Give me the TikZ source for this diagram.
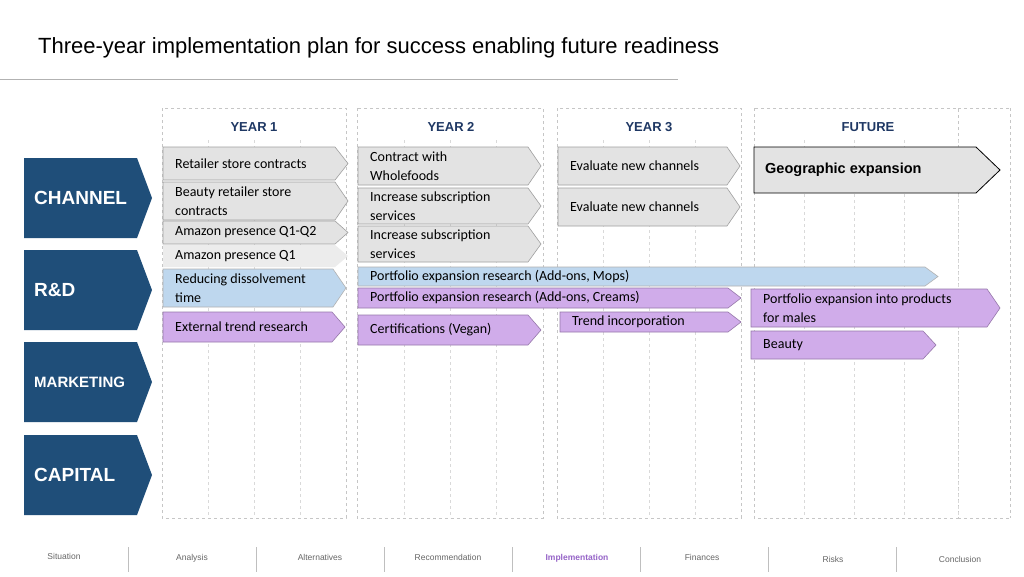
\documentclass[tikz,border=0pt]{standalone}
\usepackage{fontspec}
\setmainfont{Liberation Sans}
\newfontfamily\calfont{Carlito}
\begin{document}
\begin{tikzpicture}[x=1pt,y=-1pt,
  grayb/.style={fill=gray!22,draw=gray!75,line width=0.6pt},
  grayl/.style={fill=gray!15,draw=none},
  blueb/.style={draw=gray!60,line width=0.6pt,fill={rgb,255:red,190;green,215;blue,238}},
  purpb/.style={fill={rgb,255:red,208;green,172;blue,234},draw={rgb,255:red,150;green,120;blue,170},line width=0.6pt},
  geob/.style={fill=gray!22,draw=black,line width=0.8pt},
  rowb/.style={fill={rgb,255:red,31;green,78;blue,121},draw=none},
  btxt/.style={font=\calfont\fontsize{14}{18.5}\selectfont,anchor=west,align=left,inner sep=0pt},
  colf/.style={draw=gray!45,dashed,line width=0.5pt},
  colq/.style={draw=gray!30,dashed,line width=0.4pt},
  yh/.style={font=\bfseries\fontsize{13}{15}\selectfont,text={rgb,255:red,31;green,56;blue,100}},
  rt/.style={text=white,anchor=west},
  nav/.style={font=\fontsize{8.5}{10}\selectfont,text=gray!80!black}]
\useasboundingbox (0,0) rectangle (1024,576);
\fill[white] (0,0) rectangle (1024,576);
% title
\node[anchor=west,font=\fontsize{22}{26}\selectfont,inner sep=0pt] (title) at (38,48) {Three-year implementation plan for success enabling future readiness};
\draw[gray!60,line width=0.8pt] (0,79) -- (678,79);
% columns
\foreach \a/\b in {162/346,357/543,557/741,754/958}{
  \draw[colf] (\a,108) rectangle (\b,518);}
\draw[colf] (958,108) -- (1010,108);
\draw[colf] (1010,108) -- (1010,518);
\draw[colf] (958,518) -- (1010,518);
\foreach \x in {208,254,300,404,450,496,603,649,695,804,854,904,958}{
  \draw[colq] (\x,140) -- (\x,518);}
\node[yh] (y1) at (254,127) {YEAR 1};
\node[yh] (y2) at (451,127) {YEAR 2};
\node[yh] (y3) at (649,127) {YEAR 3};
\node[yh] (y4) at (868,127) {FUTURE};
% row labels
\foreach \n/\a/\b/\t/\fs in {ch/158/238/CHANNEL/19,rd/250/330/R\&D/19,mk/342/422/MARKETING/15,cp/435/515/CAPITAL/19}{
  \path[rowb] (24,\a) -- (137,\a) -- (152,{(\a+\b)/2}) -- (137,\b) -- (24,\b) -- cycle;
  \node[rt,inner sep=0pt,font=\bfseries\fontsize{\fs}{22}\selectfont] (\n) at (34,{(\a+\b)/2}) {\t};}
% bars
\newcommand{\mkbar}[7]{%
  \path[#6] (#2,#3) -- ({#4-13},#3) -- (#4,{(#3+#5)/2}) -- ({#4-13},#5) -- (#2,#5) -- cycle;
  \node[btxt] (#1) at ({#2+12},{(#3+#5)/2}) {#7};}
\mkbar{a1}{163}{147}{348}{180}{grayb}{Retailer store contracts}
\mkbar{a2}{163}{182}{348}{220}{grayb}{Beauty retailer store\\contracts}
\mkbar{a3}{163}{221}{348}{244}{grayb}{Amazon presence Q1-Q2}
\mkbar{a4}{163}{245}{348}{267}{grayl}{Amazon presence Q1}
\mkbar{b1}{358}{147}{541}{185}{grayb}{Contract with\\Wholefoods}
\mkbar{b2}{358}{188}{541}{224}{grayb}{Increase subscription\\services}
\mkbar{b3}{358}{226}{541}{262}{grayb}{Increase subscription\\services}
\mkbar{c1}{558}{147}{740}{185}{grayb}{Evaluate new channels}
\mkbar{c2}{558}{188}{740}{226}{grayb}{Evaluate new channels}
\path[geob] (754,147) -- (976,147) -- (1000,170) -- (976,193) -- (754,193) -- cycle;
\node[anchor=west,inner sep=0pt,font=\bfseries\fontsize{14.5}{17}\selectfont] (geo) at (765,170) {Geographic expansion};
\mkbar{r1}{163}{269}{346}{307}{blueb}{Reducing dissolvement\\time}
\mkbar{r2}{358}{267}{938}{286}{blueb}{Portfolio expansion research (Add-ons, Mops)}
\mkbar{p1}{358}{288}{741}{308}{purpb}{Portfolio expansion research (Add-ons, Creams)}
\mkbar{p2}{560}{312}{741}{332}{purpb}{Trend incorporation}
\mkbar{p3}{163}{312}{345}{342}{purpb}{External trend research}
\mkbar{p4}{358}{315}{541}{345}{purpb}{Certifications (Vegan)}
\mkbar{p5}{751}{289}{1000}{327}{purpb}{Portfolio expansion into products\\for males}
\mkbar{p6}{751}{331}{936}{359}{purpb}{Beauty}
% nav
\foreach \n/\x/\y/\t in {n1/64/556/Situation,n2/192/558/Analysis,n3/320/557/Alternatives,n4/448/557/Recommendation,n6/702/557/Finances,n7/833/559/Risks,n8/960/559/Conclusion}{
  \node[nav] (\n) at (\x,\y) {\t};}
\node[nav,font=\bfseries\fontsize{8.5}{10}\selectfont,text={rgb,255:red,150;green,100;blue,200}] (n5) at (577,558) {Implementation};
\foreach \x in {128,256,384,512,640,768,896}{
  \draw[gray!50,line width=0.8pt] (\x,547) -- (\x,572);}
\end{tikzpicture}
\end{document}
